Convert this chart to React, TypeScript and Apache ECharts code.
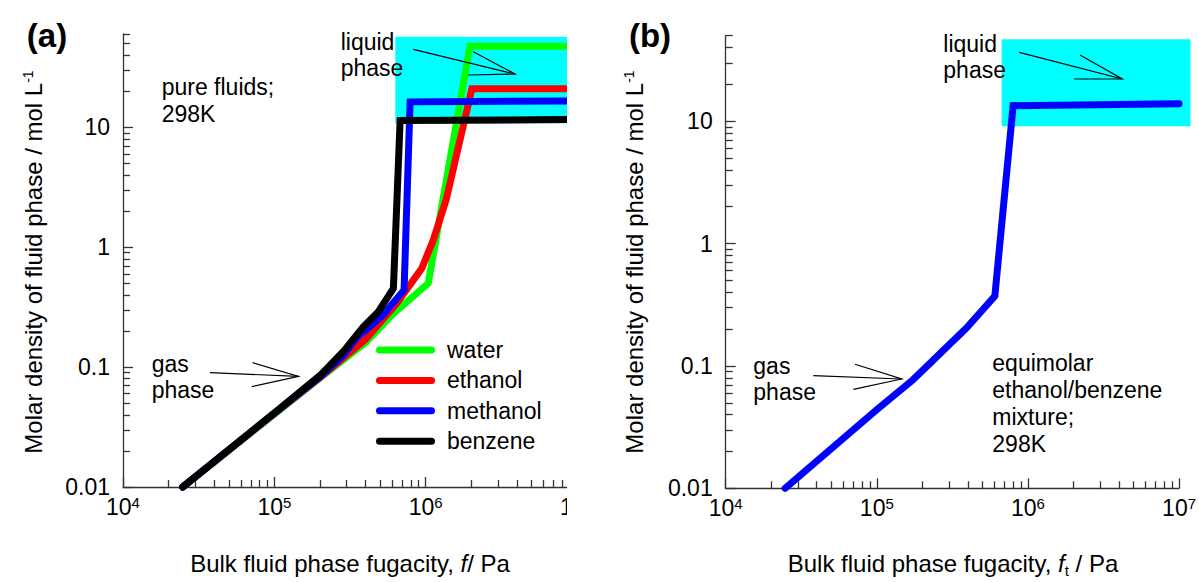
import React, { useEffect, useRef } from "react";
import * as echarts from "echarts";

const FONT = '"Liberation Sans", Arial, Helvetica, sans-serif';
const AXIS_COLOR = "#333333";

// Pure fluids at 298 K: bulk fugacity f (Pa) against molar density (mol/L)
const waterF = [2.48e4, 1e5, 2e5, 4e5, 6.12e5, 1.04e6, 1.96e6, 1e7];
const waterRho = [0.01, 0.0405, 0.081, 0.16, 0.28, 0.5, 47.5, 47.5];

const ethanolF = [2.48e4, 1e5, 2e5, 4e5, 6.44e5, 9.43e5, 1.125e6, 1.365e6, 2.02e6, 1e7];
const ethanolRho = [0.01, 0.041, 0.082, 0.17, 0.34, 0.667, 1.15, 2.48, 21, 21];

const methanolF = [2.48e4, 1e5, 2e5, 2.8e5, 3.5e5, 5.2e5, 7.2e5, 7.89e5, 1e7];
const methanolRho = [0.01, 0.0412, 0.083, 0.122, 0.175, 0.27, 0.44, 16.3, 16.6];

const benzeneF = [2.48e4, 1e5, 2e5, 2.9e5, 3.87e5, 4.87e5, 6.12e5, 6.78e5, 1e7];
const benzeneRho = [0.01, 0.0415, 0.085, 0.138, 0.217, 0.29, 0.454, 11.4, 11.6];

const fluidNames = ["water", "ethanol", "methanol", "benzene"];
const fluidColors = ["#00ff00", "#ff0000", "#0000ff", "#000000"];
const fluidF = [waterF, ethanolF, methanolF, benzeneF];
const fluidRho = [waterRho, ethanolRho, methanolRho, benzeneRho];

// Equimolar ethanol/benzene mixture at 298 K
const mixF = [2.47e4, 1e5, 1.74e5, 3.93e5, 6.04e5, 7.98e5, 1e7];
const mixRho = [0.01, 0.044, 0.0773, 0.205, 0.372, 13.4, 13.9];

// Shaded liquid-phase windows: [fMin, fMax, rhoMin, rhoMax]
const liquidBoxA = [6.3e5, 1e7, 10.8, 57];
const liquidBoxB = [6.7e5, 1.19e7, 9.1, 46.7];

// Axis ranges and ticks
const fMin = 1e4;
const fMax = 1e7;
const rhoMin = 0.01;
const rhoMaxA = 60;
const rhoMaxB = 50;
const fDecades = [4, 5, 6, 7];
const rhoDecades = [-2, -1, 0, 1];
const rhoTickLabels = ["0.01", "0.1", "1", "10"];

const lg = Math.log10;

function minorTicks(decades: number[], max: number): number[] {
  const out: number[] = [];
  decades.forEach((e) => {
    for (let k = 2; k <= 9; k++) {
      const v = e + lg(k);
      if (v <= max + 1e-9) out.push(v);
    }
  });
  return out;
}

const tickLine = { color: AXIS_COLOR, width: 1.3 };

function xAxes(max: number) {
  const base = {
    type: "value" as const,
    gridIndex: 0,
    position: "bottom" as const,
    min: lg(fMin),
    max,
    splitLine: { show: false },
  };
  return [
    {
      ...base,
      axisLine: { show: true, onZero: false, lineStyle: tickLine },
      axisTick: { show: true, inside: true, length: 10, customValues: fDecades, lineStyle: tickLine },
      axisLabel: {
        show: true,
        customValues: fDecades,
        margin: 8,
        formatter: (v: number) => `{b|10}{s|${Math.round(v)}}`,
        rich: {
          b: { fontSize: 23, fontFamily: FONT, color: "#000" },
          s: { fontSize: 15, fontFamily: FONT, color: "#000", verticalAlign: "top" },
        },
      },
    },
    {
      ...base,
      axisLine: { show: false, onZero: false },
      axisTick: {
        show: true,
        inside: true,
        length: 7,
        customValues: minorTicks([4, 5, 6], max),
        lineStyle: tickLine,
      },
      axisLabel: { show: false },
    },
  ];
}

function yAxes(rhoMax: number) {
  const max = lg(rhoMax);
  const base = {
    type: "value" as const,
    gridIndex: 0,
    position: "left" as const,
    min: lg(rhoMin),
    max,
    splitLine: { show: false },
  };
  return [
    {
      ...base,
      axisLine: { show: true, onZero: false, lineStyle: tickLine },
      axisTick: { show: true, inside: true, length: 10, customValues: rhoDecades, lineStyle: tickLine },
      axisLabel: {
        show: true,
        customValues: rhoDecades,
        margin: 13,
        fontSize: 23,
        fontFamily: FONT,
        color: "#000",
        formatter: (v: number) => rhoTickLabels[rhoDecades.indexOf(Math.round(v))] ?? "",
      },
    },
    {
      ...base,
      axisLine: { show: false, onZero: false },
      axisTick: {
        show: true,
        inside: true,
        length: 7,
        customValues: minorTicks(rhoDecades, max),
        lineStyle: tickLine,
      },
      axisLabel: { show: false },
    },
  ];
}

function liquidBoxSeries(box: number[]) {
  return {
    type: "custom",
    silent: true,
    z: 1,
    clip: false,
    encode: { x: [0, 1], y: [2, 3] },
    data: [[lg(box[0]), lg(box[1]), lg(box[2]), lg(box[3])]],
    renderItem: (_p: any, api: any) => {
      const tl = api.coord([api.value(0), api.value(3)]);
      const br = api.coord([api.value(1), api.value(2)]);
      return {
        type: "rect",
        shape: { x: tl[0], y: tl[1], width: br[0] - tl[0], height: br[1] - tl[1] },
        style: { fill: "#00ffff" },
      };
    },
  };
}

function curveSeries(name: string, color: string, f: number[], rho: number[], z: number) {
  return {
    type: "line",
    name,
    data: f.map((v, i) => [lg(v), lg(rho[i])]),
    symbol: "none",
    showSymbol: false,
    clip: false,
    z,
    itemStyle: { color },
    lineStyle: { color, width: 7, cap: "round", join: "miter" },
    emphasis: { disabled: true },
  };
}

const txt = (size = 23, extra: any = {}) => ({
  fontSize: size,
  fontFamily: FONT,
  fill: "#000",
  ...extra,
});

function label(x: number, y: number, text: string, lineHeight = 27, align = "left") {
  return {
    type: "text",
    x,
    y,
    z: 100,
    style: { ...txt(), text, lineHeight, align, verticalAlign: "middle" },
  };
}

function arrow(from: number[], tip: number[], wingA: number[], wingB: number[]) {
  const stroke = { stroke: "#000", lineWidth: 1.2, fill: null };
  return [
    { type: "polyline", z: 100, shape: { points: [from, tip] }, style: stroke },
    { type: "polyline", z: 100, shape: { points: [wingA, tip, wingB] }, style: stroke },
  ];
}

function yTitle(x: number, y: number) {
  return {
    type: "text",
    x,
    y,
    z: 100,
    rotation: Math.PI / 2,
    style: {
      ...txt(24),
      text: "Molar density of fluid phase / mol L{sup|-1}",
      align: "center",
      verticalAlign: "middle",
      rich: {
        sup: { fontSize: 14, fontFamily: FONT, fill: "#000", verticalAlign: "top" },
      },
    },
  };
}

function xTitle(x: number, y: number, sub: string) {
  return {
    type: "text",
    x,
    y,
    z: 100,
    style: {
      ...txt(24),
      text: `Bulk fluid phase fugacity, {i|f}${sub ? `{sub|${sub}}` : ""}{n|${sub ? " " : ""}/ Pa}`,
      align: "center",
      verticalAlign: "middle",
      lineHeight: 30,
      rich: {
        i: { fontSize: 24, fontFamily: FONT, fill: "#000", fontStyle: "italic" },
        n: { fontSize: 24, fontFamily: FONT, fill: "#000" },
        sub: { fontSize: 15, fontFamily: FONT, fill: "#000", verticalAlign: "bottom" },
      },
    },
  };
}

function panelTag(x: number, y: number, text: string) {
  return {
    type: "text",
    x,
    y,
    z: 100,
    style: { ...txt(33, { fontWeight: "bold" }), text, align: "center", verticalAlign: "middle" },
  };
}

function optionA(): any {
  return {
    animation: false,
    grid: { left: 123, top: 34, right: 1199 - 577, bottom: 582 - 487 },
    xAxis: xAxes(lg(fMax)),
    yAxis: yAxes(rhoMaxA),
    legend: {
      data: fluidNames,
      orient: "vertical",
      left: 376,
      top: 338.5,
      padding: 0,
      itemGap: 7.4,
      itemWidth: 59,
      itemHeight: 7,
      icon: "path://M3.5,0L55.5,0A3.5,3.5,0,0,1,55.5,7L3.5,7A3.5,3.5,0,0,1,3.5,0Z",
      itemStyle: { borderWidth: 0 },
      selectedMode: false,
      textStyle: {
        fontSize: 23,
        fontFamily: FONT,
        color: "#000",
        lineHeight: 23,
        padding: [0, 0, 0, 7],
      },
    },
    series: [
      liquidBoxSeries(liquidBoxA),
      ...fluidNames.map((n, i) => curveSeries(n, fluidColors[i], fluidF[i], fluidRho[i], 3 + i)),
    ],
    graphic: [
      panelTag(47, 35, "(a)"),
      yTitle(33, 262),
      xTitle(350, 563, ""),
      label(161.7, 100, "pure fluids;\n298K"),
      label(340.7, 55, "liquid\nphase", 26.5),
      label(151.7, 377, "gas\nphase", 26),
      ...arrow([413.3, 49.3], [515, 74], [473.3, 51.7], [468.3, 75]),
      ...arrow([210, 372.7], [298.5, 376.3], [252.7, 362.7], [251.7, 386.7]),
    ],
  };
}

function optionB(): any {
  return {
    animation: false,
    grid: { left: 725.7, top: 35.7, right: 1199 - 1179.3, bottom: 582 - 488.3 },
    xAxis: xAxes(lg(fMax)),
    yAxis: yAxes(rhoMaxB),
    series: [
      liquidBoxSeries(liquidBoxB),
      curveSeries("equimolar ethanol/benzene", "#0000ff", mixF, mixRho, 3),
    ],
    graphic: [
      panelTag(650, 35, "(b)"),
      yTitle(634, 262),
      xTitle(953, 563, "t"),
      label(943.3, 56.5, "liquid\nphase", 26),
      label(753.3, 379, "gas\nphase", 26),
      label(992.3, 403, "equimolar\nethanol/benzene\nmixture;\n298K", 27),
      ...arrow([1019.3, 52.3], [1122.3, 79], [1080, 55], [1074, 79]),
      ...arrow([813.3, 375.7], [901.7, 379], [855, 364.3], [853.3, 389.3]),
    ],
  };
}

export default function App() {
  const refA = useRef<HTMLDivElement>(null);
  const refB = useRef<HTMLDivElement>(null);

  useEffect(() => {
    const chartB = echarts.init(refB.current!, null, { renderer: "svg" });
    const chartA = echarts.init(refA.current!, null, { renderer: "svg" });
    chartB.setOption(optionB());
    chartA.setOption(optionA());
    return () => {
      chartA.dispose();
      chartB.dispose();
    };
  }, []);

  return (
    <div
      style={{
        position: "absolute",
        left: 0,
        top: 0,
        width: 1199,
        height: 582,
        background: "#fff",
        overflow: "hidden",
      }}
    >
      <div ref={refB} style={{ position: "absolute", left: 0, top: 0, width: 1199, height: 582 }} />
      <div style={{ position: "absolute", left: 0, top: 0, width: 567, height: 582, overflow: "hidden" }}>
        <div ref={refA} style={{ width: 1199, height: 582 }} />
      </div>
    </div>
  );
}
